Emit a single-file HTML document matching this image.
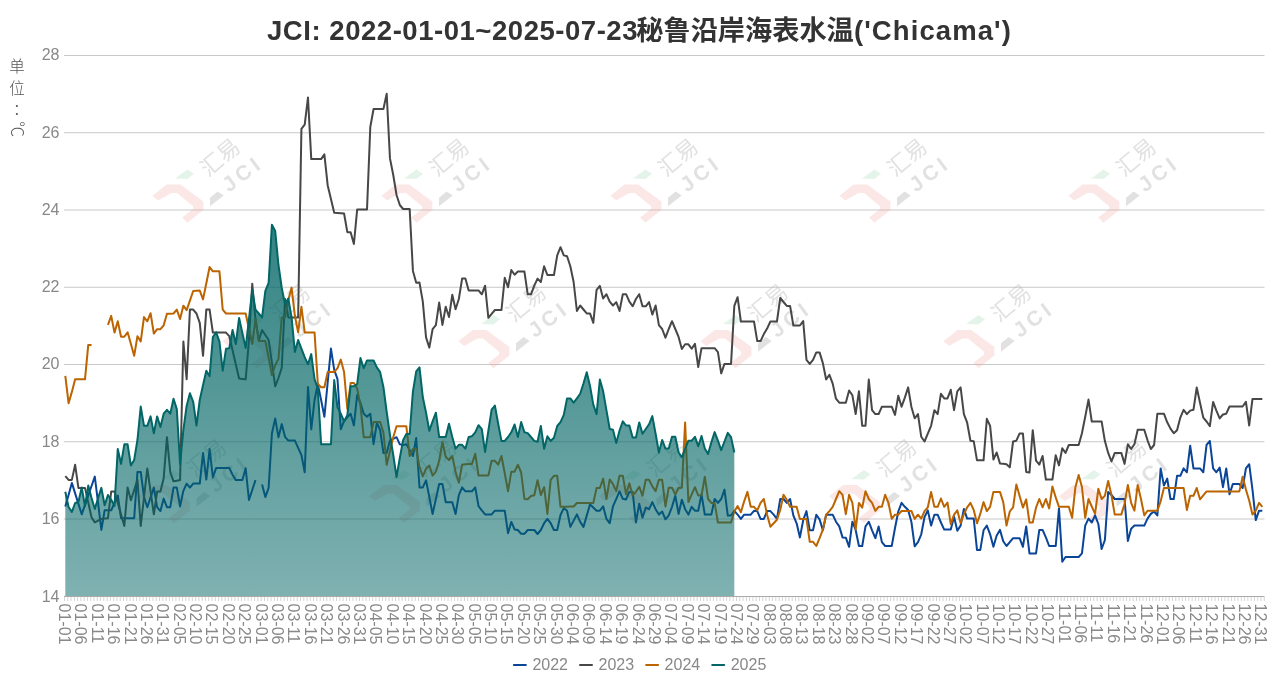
<!DOCTYPE html><html><head><meta charset="utf-8"><title>JCI Chicama</title><style>html,body{margin:0;padding:0;background:#fff;overflow:hidden}</style></head><body><svg width="1278" height="689" viewBox="0 0 1278 689" style="display:block;will-change:transform">
<defs><linearGradient id="g25" x1="0" y1="226" x2="0" y2="596.5" gradientUnits="userSpaceOnUse"><stop offset="0" stop-color="#006464" stop-opacity="0.8"/><stop offset="1" stop-color="#006464" stop-opacity="0.5"/></linearGradient></defs>
<rect width="1278" height="689" fill="#fff"/>
<line x1="64" y1="55.50" x2="1264.5" y2="55.50" stroke="#c8c8c8" stroke-width="1"/>
<line x1="64" y1="132.75" x2="1264.5" y2="132.75" stroke="#c8c8c8" stroke-width="1"/>
<line x1="64" y1="210.00" x2="1264.5" y2="210.00" stroke="#c8c8c8" stroke-width="1"/>
<line x1="64" y1="287.25" x2="1264.5" y2="287.25" stroke="#c8c8c8" stroke-width="1"/>
<line x1="64" y1="364.50" x2="1264.5" y2="364.50" stroke="#c8c8c8" stroke-width="1"/>
<line x1="64" y1="441.75" x2="1264.5" y2="441.75" stroke="#c8c8c8" stroke-width="1"/>
<line x1="64" y1="519.00" x2="1264.5" y2="519.00" stroke="#c8c8c8" stroke-width="1"/>
<text x="59.5" y="60.40" text-anchor="end" font-size="16" fill="#888" font-family='"Liberation Sans", "Noto Sans CJK SC", sans-serif'>28</text>
<text x="59.5" y="137.65" text-anchor="end" font-size="16" fill="#888" font-family='"Liberation Sans", "Noto Sans CJK SC", sans-serif'>26</text>
<text x="59.5" y="214.90" text-anchor="end" font-size="16" fill="#888" font-family='"Liberation Sans", "Noto Sans CJK SC", sans-serif'>24</text>
<text x="59.5" y="292.15" text-anchor="end" font-size="16" fill="#888" font-family='"Liberation Sans", "Noto Sans CJK SC", sans-serif'>22</text>
<text x="59.5" y="369.40" text-anchor="end" font-size="16" fill="#888" font-family='"Liberation Sans", "Noto Sans CJK SC", sans-serif'>20</text>
<text x="59.5" y="446.65" text-anchor="end" font-size="16" fill="#888" font-family='"Liberation Sans", "Noto Sans CJK SC", sans-serif'>18</text>
<text x="59.5" y="523.90" text-anchor="end" font-size="16" fill="#888" font-family='"Liberation Sans", "Noto Sans CJK SC", sans-serif'>16</text>
<text x="59.5" y="602.40" text-anchor="end" font-size="16" fill="#888" font-family='"Liberation Sans", "Noto Sans CJK SC", sans-serif'>14</text>
<path d="M64.50 597V601 M67.78 597V601 M71.06 597V601 M74.33 597V601 M77.61 597V601 M80.89 597V601 M84.17 597V601 M87.45 597V601 M90.72 597V601 M94.00 597V601 M97.28 597V601 M100.56 597V601 M103.84 597V601 M107.11 597V601 M110.39 597V601 M113.67 597V601 M116.95 597V601 M120.23 597V601 M123.50 597V601 M126.78 597V601 M130.06 597V601 M133.34 597V601 M136.62 597V601 M139.89 597V601 M143.17 597V601 M146.45 597V601 M149.73 597V601 M153.01 597V601 M156.28 597V601 M159.56 597V601 M162.84 597V601 M166.12 597V601 M169.40 597V601 M172.67 597V601 M175.95 597V601 M179.23 597V601 M182.51 597V601 M185.79 597V601 M189.06 597V601 M192.34 597V601 M195.62 597V601 M198.90 597V601 M202.18 597V601 M205.45 597V601 M208.73 597V601 M212.01 597V601 M215.29 597V601 M218.57 597V601 M221.84 597V601 M225.12 597V601 M228.40 597V601 M231.68 597V601 M234.96 597V601 M238.23 597V601 M241.51 597V601 M244.79 597V601 M248.07 597V601 M251.35 597V601 M254.62 597V601 M257.90 597V601 M261.18 597V601 M264.46 597V601 M267.74 597V601 M271.01 597V601 M274.29 597V601 M277.57 597V601 M280.85 597V601 M284.13 597V601 M287.40 597V601 M290.68 597V601 M293.96 597V601 M297.24 597V601 M300.52 597V601 M303.79 597V601 M307.07 597V601 M310.35 597V601 M313.63 597V601 M316.91 597V601 M320.18 597V601 M323.46 597V601 M326.74 597V601 M330.02 597V601 M333.30 597V601 M336.57 597V601 M339.85 597V601 M343.13 597V601 M346.41 597V601 M349.69 597V601 M352.96 597V601 M356.24 597V601 M359.52 597V601 M362.80 597V601 M366.08 597V601 M369.35 597V601 M372.63 597V601 M375.91 597V601 M379.19 597V601 M382.47 597V601 M385.74 597V601 M389.02 597V601 M392.30 597V601 M395.58 597V601 M398.86 597V601 M402.13 597V601 M405.41 597V601 M408.69 597V601 M411.97 597V601 M415.25 597V601 M418.52 597V601 M421.80 597V601 M425.08 597V601 M428.36 597V601 M431.64 597V601 M434.91 597V601 M438.19 597V601 M441.47 597V601 M444.75 597V601 M448.03 597V601 M451.30 597V601 M454.58 597V601 M457.86 597V601 M461.14 597V601 M464.42 597V601 M467.69 597V601 M470.97 597V601 M474.25 597V601 M477.53 597V601 M480.81 597V601 M484.08 597V601 M487.36 597V601 M490.64 597V601 M493.92 597V601 M497.20 597V601 M500.47 597V601 M503.75 597V601 M507.03 597V601 M510.31 597V601 M513.59 597V601 M516.86 597V601 M520.14 597V601 M523.42 597V601 M526.70 597V601 M529.98 597V601 M533.25 597V601 M536.53 597V601 M539.81 597V601 M543.09 597V601 M546.37 597V601 M549.64 597V601 M552.92 597V601 M556.20 597V601 M559.48 597V601 M562.76 597V601 M566.03 597V601 M569.31 597V601 M572.59 597V601 M575.87 597V601 M579.15 597V601 M582.42 597V601 M585.70 597V601 M588.98 597V601 M592.26 597V601 M595.54 597V601 M598.81 597V601 M602.09 597V601 M605.37 597V601 M608.65 597V601 M611.93 597V601 M615.20 597V601 M618.48 597V601 M621.76 597V601 M625.04 597V601 M628.32 597V601 M631.59 597V601 M634.87 597V601 M638.15 597V601 M641.43 597V601 M644.71 597V601 M647.98 597V601 M651.26 597V601 M654.54 597V601 M657.82 597V601 M661.10 597V601 M664.37 597V601 M667.65 597V601 M670.93 597V601 M674.21 597V601 M677.49 597V601 M680.76 597V601 M684.04 597V601 M687.32 597V601 M690.60 597V601 M693.88 597V601 M697.15 597V601 M700.43 597V601 M703.71 597V601 M706.99 597V601 M710.27 597V601 M713.54 597V601 M716.82 597V601 M720.10 597V601 M723.38 597V601 M726.66 597V601 M729.93 597V601 M733.21 597V601 M736.49 597V601 M739.77 597V601 M743.05 597V601 M746.32 597V601 M749.60 597V601 M752.88 597V601 M756.16 597V601 M759.44 597V601 M762.71 597V601 M765.99 597V601 M769.27 597V601 M772.55 597V601 M775.83 597V601 M779.10 597V601 M782.38 597V601 M785.66 597V601 M788.94 597V601 M792.22 597V601 M795.49 597V601 M798.77 597V601 M802.05 597V601 M805.33 597V601 M808.61 597V601 M811.88 597V601 M815.16 597V601 M818.44 597V601 M821.72 597V601 M825.00 597V601 M828.27 597V601 M831.55 597V601 M834.83 597V601 M838.11 597V601 M841.39 597V601 M844.66 597V601 M847.94 597V601 M851.22 597V601 M854.50 597V601 M857.78 597V601 M861.05 597V601 M864.33 597V601 M867.61 597V601 M870.89 597V601 M874.17 597V601 M877.44 597V601 M880.72 597V601 M884.00 597V601 M887.28 597V601 M890.56 597V601 M893.83 597V601 M897.11 597V601 M900.39 597V601 M903.67 597V601 M906.95 597V601 M910.22 597V601 M913.50 597V601 M916.78 597V601 M920.06 597V601 M923.34 597V601 M926.61 597V601 M929.89 597V601 M933.17 597V601 M936.45 597V601 M939.73 597V601 M943.00 597V601 M946.28 597V601 M949.56 597V601 M952.84 597V601 M956.12 597V601 M959.39 597V601 M962.67 597V601 M965.95 597V601 M969.23 597V601 M972.51 597V601 M975.78 597V601 M979.06 597V601 M982.34 597V601 M985.62 597V601 M988.90 597V601 M992.17 597V601 M995.45 597V601 M998.73 597V601 M1002.01 597V601 M1005.29 597V601 M1008.56 597V601 M1011.84 597V601 M1015.12 597V601 M1018.40 597V601 M1021.68 597V601 M1024.95 597V601 M1028.23 597V601 M1031.51 597V601 M1034.79 597V601 M1038.07 597V601 M1041.34 597V601 M1044.62 597V601 M1047.90 597V601 M1051.18 597V601 M1054.46 597V601 M1057.73 597V601 M1061.01 597V601 M1064.29 597V601 M1067.57 597V601 M1070.85 597V601 M1074.12 597V601 M1077.40 597V601 M1080.68 597V601 M1083.96 597V601 M1087.24 597V601 M1090.51 597V601 M1093.79 597V601 M1097.07 597V601 M1100.35 597V601 M1103.63 597V601 M1106.90 597V601 M1110.18 597V601 M1113.46 597V601 M1116.74 597V601 M1120.02 597V601 M1123.29 597V601 M1126.57 597V601 M1129.85 597V601 M1133.13 597V601 M1136.41 597V601 M1139.68 597V601 M1142.96 597V601 M1146.24 597V601 M1149.52 597V601 M1152.80 597V601 M1156.07 597V601 M1159.35 597V601 M1162.63 597V601 M1165.91 597V601 M1169.19 597V601 M1172.46 597V601 M1175.74 597V601 M1179.02 597V601 M1182.30 597V601 M1185.58 597V601 M1188.85 597V601 M1192.13 597V601 M1195.41 597V601 M1198.69 597V601 M1201.97 597V601 M1205.24 597V601 M1208.52 597V601 M1211.80 597V601 M1215.08 597V601 M1218.36 597V601 M1221.63 597V601 M1224.91 597V601 M1228.19 597V601 M1231.47 597V601 M1234.75 597V601 M1238.02 597V601 M1241.30 597V601 M1244.58 597V601 M1247.86 597V601 M1251.14 597V601 M1254.41 597V601 M1257.69 597V601 M1260.97 597V601 M1264.25 597V601" stroke="#d5d5d5" stroke-width="1" fill="none"/>
<text transform="translate(59.00,603.5) rotate(90)" font-size="16" fill="#888" font-family='"Liberation Sans", "Noto Sans CJK SC", sans-serif'>01-01</text>
<text transform="translate(75.39,603.5) rotate(90)" font-size="16" fill="#888" font-family='"Liberation Sans", "Noto Sans CJK SC", sans-serif'>01-06</text>
<text transform="translate(91.77,603.5) rotate(90)" font-size="16" fill="#888" font-family='"Liberation Sans", "Noto Sans CJK SC", sans-serif'>01-11</text>
<text transform="translate(108.16,603.5) rotate(90)" font-size="16" fill="#888" font-family='"Liberation Sans", "Noto Sans CJK SC", sans-serif'>01-16</text>
<text transform="translate(124.55,603.5) rotate(90)" font-size="16" fill="#888" font-family='"Liberation Sans", "Noto Sans CJK SC", sans-serif'>01-21</text>
<text transform="translate(140.94,603.5) rotate(90)" font-size="16" fill="#888" font-family='"Liberation Sans", "Noto Sans CJK SC", sans-serif'>01-26</text>
<text transform="translate(157.32,603.5) rotate(90)" font-size="16" fill="#888" font-family='"Liberation Sans", "Noto Sans CJK SC", sans-serif'>01-31</text>
<text transform="translate(173.71,603.5) rotate(90)" font-size="16" fill="#888" font-family='"Liberation Sans", "Noto Sans CJK SC", sans-serif'>02-05</text>
<text transform="translate(190.10,603.5) rotate(90)" font-size="16" fill="#888" font-family='"Liberation Sans", "Noto Sans CJK SC", sans-serif'>02-10</text>
<text transform="translate(206.49,603.5) rotate(90)" font-size="16" fill="#888" font-family='"Liberation Sans", "Noto Sans CJK SC", sans-serif'>02-15</text>
<text transform="translate(222.88,603.5) rotate(90)" font-size="16" fill="#888" font-family='"Liberation Sans", "Noto Sans CJK SC", sans-serif'>02-20</text>
<text transform="translate(239.26,603.5) rotate(90)" font-size="16" fill="#888" font-family='"Liberation Sans", "Noto Sans CJK SC", sans-serif'>02-25</text>
<text transform="translate(255.65,603.5) rotate(90)" font-size="16" fill="#888" font-family='"Liberation Sans", "Noto Sans CJK SC", sans-serif'>03-01</text>
<text transform="translate(272.04,603.5) rotate(90)" font-size="16" fill="#888" font-family='"Liberation Sans", "Noto Sans CJK SC", sans-serif'>03-06</text>
<text transform="translate(288.42,603.5) rotate(90)" font-size="16" fill="#888" font-family='"Liberation Sans", "Noto Sans CJK SC", sans-serif'>03-11</text>
<text transform="translate(304.81,603.5) rotate(90)" font-size="16" fill="#888" font-family='"Liberation Sans", "Noto Sans CJK SC", sans-serif'>03-16</text>
<text transform="translate(321.20,603.5) rotate(90)" font-size="16" fill="#888" font-family='"Liberation Sans", "Noto Sans CJK SC", sans-serif'>03-21</text>
<text transform="translate(337.59,603.5) rotate(90)" font-size="16" fill="#888" font-family='"Liberation Sans", "Noto Sans CJK SC", sans-serif'>03-26</text>
<text transform="translate(353.97,603.5) rotate(90)" font-size="16" fill="#888" font-family='"Liberation Sans", "Noto Sans CJK SC", sans-serif'>03-31</text>
<text transform="translate(370.36,603.5) rotate(90)" font-size="16" fill="#888" font-family='"Liberation Sans", "Noto Sans CJK SC", sans-serif'>04-05</text>
<text transform="translate(386.75,603.5) rotate(90)" font-size="16" fill="#888" font-family='"Liberation Sans", "Noto Sans CJK SC", sans-serif'>04-10</text>
<text transform="translate(403.14,603.5) rotate(90)" font-size="16" fill="#888" font-family='"Liberation Sans", "Noto Sans CJK SC", sans-serif'>04-15</text>
<text transform="translate(419.52,603.5) rotate(90)" font-size="16" fill="#888" font-family='"Liberation Sans", "Noto Sans CJK SC", sans-serif'>04-20</text>
<text transform="translate(435.91,603.5) rotate(90)" font-size="16" fill="#888" font-family='"Liberation Sans", "Noto Sans CJK SC", sans-serif'>04-25</text>
<text transform="translate(452.30,603.5) rotate(90)" font-size="16" fill="#888" font-family='"Liberation Sans", "Noto Sans CJK SC", sans-serif'>04-30</text>
<text transform="translate(468.69,603.5) rotate(90)" font-size="16" fill="#888" font-family='"Liberation Sans", "Noto Sans CJK SC", sans-serif'>05-05</text>
<text transform="translate(485.07,603.5) rotate(90)" font-size="16" fill="#888" font-family='"Liberation Sans", "Noto Sans CJK SC", sans-serif'>05-10</text>
<text transform="translate(501.46,603.5) rotate(90)" font-size="16" fill="#888" font-family='"Liberation Sans", "Noto Sans CJK SC", sans-serif'>05-15</text>
<text transform="translate(517.85,603.5) rotate(90)" font-size="16" fill="#888" font-family='"Liberation Sans", "Noto Sans CJK SC", sans-serif'>05-20</text>
<text transform="translate(534.24,603.5) rotate(90)" font-size="16" fill="#888" font-family='"Liberation Sans", "Noto Sans CJK SC", sans-serif'>05-25</text>
<text transform="translate(550.62,603.5) rotate(90)" font-size="16" fill="#888" font-family='"Liberation Sans", "Noto Sans CJK SC", sans-serif'>05-30</text>
<text transform="translate(567.01,603.5) rotate(90)" font-size="16" fill="#888" font-family='"Liberation Sans", "Noto Sans CJK SC", sans-serif'>06-04</text>
<text transform="translate(583.40,603.5) rotate(90)" font-size="16" fill="#888" font-family='"Liberation Sans", "Noto Sans CJK SC", sans-serif'>06-09</text>
<text transform="translate(599.79,603.5) rotate(90)" font-size="16" fill="#888" font-family='"Liberation Sans", "Noto Sans CJK SC", sans-serif'>06-14</text>
<text transform="translate(616.17,603.5) rotate(90)" font-size="16" fill="#888" font-family='"Liberation Sans", "Noto Sans CJK SC", sans-serif'>06-19</text>
<text transform="translate(632.56,603.5) rotate(90)" font-size="16" fill="#888" font-family='"Liberation Sans", "Noto Sans CJK SC", sans-serif'>06-24</text>
<text transform="translate(648.95,603.5) rotate(90)" font-size="16" fill="#888" font-family='"Liberation Sans", "Noto Sans CJK SC", sans-serif'>06-29</text>
<text transform="translate(665.34,603.5) rotate(90)" font-size="16" fill="#888" font-family='"Liberation Sans", "Noto Sans CJK SC", sans-serif'>07-04</text>
<text transform="translate(681.73,603.5) rotate(90)" font-size="16" fill="#888" font-family='"Liberation Sans", "Noto Sans CJK SC", sans-serif'>07-09</text>
<text transform="translate(698.11,603.5) rotate(90)" font-size="16" fill="#888" font-family='"Liberation Sans", "Noto Sans CJK SC", sans-serif'>07-14</text>
<text transform="translate(714.50,603.5) rotate(90)" font-size="16" fill="#888" font-family='"Liberation Sans", "Noto Sans CJK SC", sans-serif'>07-19</text>
<text transform="translate(730.89,603.5) rotate(90)" font-size="16" fill="#888" font-family='"Liberation Sans", "Noto Sans CJK SC", sans-serif'>07-24</text>
<text transform="translate(747.27,603.5) rotate(90)" font-size="16" fill="#888" font-family='"Liberation Sans", "Noto Sans CJK SC", sans-serif'>07-29</text>
<text transform="translate(763.66,603.5) rotate(90)" font-size="16" fill="#888" font-family='"Liberation Sans", "Noto Sans CJK SC", sans-serif'>08-03</text>
<text transform="translate(780.05,603.5) rotate(90)" font-size="16" fill="#888" font-family='"Liberation Sans", "Noto Sans CJK SC", sans-serif'>08-08</text>
<text transform="translate(796.44,603.5) rotate(90)" font-size="16" fill="#888" font-family='"Liberation Sans", "Noto Sans CJK SC", sans-serif'>08-13</text>
<text transform="translate(812.82,603.5) rotate(90)" font-size="16" fill="#888" font-family='"Liberation Sans", "Noto Sans CJK SC", sans-serif'>08-18</text>
<text transform="translate(829.21,603.5) rotate(90)" font-size="16" fill="#888" font-family='"Liberation Sans", "Noto Sans CJK SC", sans-serif'>08-23</text>
<text transform="translate(845.60,603.5) rotate(90)" font-size="16" fill="#888" font-family='"Liberation Sans", "Noto Sans CJK SC", sans-serif'>08-28</text>
<text transform="translate(861.99,603.5) rotate(90)" font-size="16" fill="#888" font-family='"Liberation Sans", "Noto Sans CJK SC", sans-serif'>09-02</text>
<text transform="translate(878.38,603.5) rotate(90)" font-size="16" fill="#888" font-family='"Liberation Sans", "Noto Sans CJK SC", sans-serif'>09-07</text>
<text transform="translate(894.76,603.5) rotate(90)" font-size="16" fill="#888" font-family='"Liberation Sans", "Noto Sans CJK SC", sans-serif'>09-12</text>
<text transform="translate(911.15,603.5) rotate(90)" font-size="16" fill="#888" font-family='"Liberation Sans", "Noto Sans CJK SC", sans-serif'>09-17</text>
<text transform="translate(927.54,603.5) rotate(90)" font-size="16" fill="#888" font-family='"Liberation Sans", "Noto Sans CJK SC", sans-serif'>09-22</text>
<text transform="translate(943.92,603.5) rotate(90)" font-size="16" fill="#888" font-family='"Liberation Sans", "Noto Sans CJK SC", sans-serif'>09-27</text>
<text transform="translate(960.31,603.5) rotate(90)" font-size="16" fill="#888" font-family='"Liberation Sans", "Noto Sans CJK SC", sans-serif'>10-02</text>
<text transform="translate(976.70,603.5) rotate(90)" font-size="16" fill="#888" font-family='"Liberation Sans", "Noto Sans CJK SC", sans-serif'>10-07</text>
<text transform="translate(993.09,603.5) rotate(90)" font-size="16" fill="#888" font-family='"Liberation Sans", "Noto Sans CJK SC", sans-serif'>10-12</text>
<text transform="translate(1009.47,603.5) rotate(90)" font-size="16" fill="#888" font-family='"Liberation Sans", "Noto Sans CJK SC", sans-serif'>10-17</text>
<text transform="translate(1025.86,603.5) rotate(90)" font-size="16" fill="#888" font-family='"Liberation Sans", "Noto Sans CJK SC", sans-serif'>10-22</text>
<text transform="translate(1042.25,603.5) rotate(90)" font-size="16" fill="#888" font-family='"Liberation Sans", "Noto Sans CJK SC", sans-serif'>10-27</text>
<text transform="translate(1058.64,603.5) rotate(90)" font-size="16" fill="#888" font-family='"Liberation Sans", "Noto Sans CJK SC", sans-serif'>11-01</text>
<text transform="translate(1075.03,603.5) rotate(90)" font-size="16" fill="#888" font-family='"Liberation Sans", "Noto Sans CJK SC", sans-serif'>11-06</text>
<text transform="translate(1091.41,603.5) rotate(90)" font-size="16" fill="#888" font-family='"Liberation Sans", "Noto Sans CJK SC", sans-serif'>11-11</text>
<text transform="translate(1107.80,603.5) rotate(90)" font-size="16" fill="#888" font-family='"Liberation Sans", "Noto Sans CJK SC", sans-serif'>11-16</text>
<text transform="translate(1124.19,603.5) rotate(90)" font-size="16" fill="#888" font-family='"Liberation Sans", "Noto Sans CJK SC", sans-serif'>11-21</text>
<text transform="translate(1140.58,603.5) rotate(90)" font-size="16" fill="#888" font-family='"Liberation Sans", "Noto Sans CJK SC", sans-serif'>11-26</text>
<text transform="translate(1156.96,603.5) rotate(90)" font-size="16" fill="#888" font-family='"Liberation Sans", "Noto Sans CJK SC", sans-serif'>12-01</text>
<text transform="translate(1173.35,603.5) rotate(90)" font-size="16" fill="#888" font-family='"Liberation Sans", "Noto Sans CJK SC", sans-serif'>12-06</text>
<text transform="translate(1189.74,603.5) rotate(90)" font-size="16" fill="#888" font-family='"Liberation Sans", "Noto Sans CJK SC", sans-serif'>12-11</text>
<text transform="translate(1206.12,603.5) rotate(90)" font-size="16" fill="#888" font-family='"Liberation Sans", "Noto Sans CJK SC", sans-serif'>12-16</text>
<text transform="translate(1222.51,603.5) rotate(90)" font-size="16" fill="#888" font-family='"Liberation Sans", "Noto Sans CJK SC", sans-serif'>12-21</text>
<text transform="translate(1238.90,603.5) rotate(90)" font-size="16" fill="#888" font-family='"Liberation Sans", "Noto Sans CJK SC", sans-serif'>12-26</text>
<text transform="translate(1255.29,603.5) rotate(90)" font-size="16" fill="#888" font-family='"Liberation Sans", "Noto Sans CJK SC", sans-serif'>12-31</text>
<g>
<polygon points="1068.5,195.8 1082.6,184.5 1096.3,184.5 1119.4,201.5 1119.4,210.0 1103.4,222.7 1098.2,217.5 1109.1,209.1 1109.1,206.2 1093.0,193.0 1087.4,193.0 1074.2,200.6" fill="rgb(245,160,160)" fill-opacity="0.25"/>
<polygon points="1091.1,178.4 1103.4,169.4 1110.0,173.7 1103.4,178.9" fill="rgb(150,210,170)" fill-opacity="0.25"/>
<polygon points="1126.0,197.7 1133.6,191.6 1139.7,195.4 1126.0,206.2" fill="rgb(180,180,180)" fill-opacity="0.4"/>
<text x="1136.2" y="157.6" transform="rotate(-40 1136.2 157.6)" text-anchor="middle" dominant-baseline="central" font-size="22" fill="rgb(180,180,180)" fill-opacity="0.4" font-family='"Liberation Sans", "Noto Sans CJK SC", sans-serif'>汇易</text>
<text x="1158.4" y="173.3" transform="rotate(-37 1158.4 173.3)" text-anchor="middle" dominant-baseline="central" font-size="21" font-weight="bold" letter-spacing="4" fill="rgb(180,180,180)" fill-opacity="0.4" font-family='"Liberation Sans", "Noto Sans CJK SC", sans-serif'>JCI</text>
<polygon points="839.5,195.8 853.6,184.5 867.3,184.5 890.4,201.5 890.4,210.0 874.4,222.7 869.2,217.5 880.1,209.1 880.1,206.2 864.0,193.0 858.4,193.0 845.2,200.6" fill="rgb(245,160,160)" fill-opacity="0.25"/>
<polygon points="862.1,178.4 874.4,169.4 881.0,173.7 874.4,178.9" fill="rgb(150,210,170)" fill-opacity="0.25"/>
<polygon points="897.0,197.7 904.6,191.6 910.7,195.4 897.0,206.2" fill="rgb(180,180,180)" fill-opacity="0.4"/>
<text x="907.2" y="157.6" transform="rotate(-40 907.2 157.6)" text-anchor="middle" dominant-baseline="central" font-size="22" fill="rgb(180,180,180)" fill-opacity="0.4" font-family='"Liberation Sans", "Noto Sans CJK SC", sans-serif'>汇易</text>
<text x="929.4" y="173.3" transform="rotate(-37 929.4 173.3)" text-anchor="middle" dominant-baseline="central" font-size="21" font-weight="bold" letter-spacing="4" fill="rgb(180,180,180)" fill-opacity="0.4" font-family='"Liberation Sans", "Noto Sans CJK SC", sans-serif'>JCI</text>
<polygon points="610.5,195.8 624.6,184.5 638.3,184.5 661.4,201.5 661.4,210.0 645.4,222.7 640.2,217.5 651.1,209.1 651.1,206.2 635.0,193.0 629.4,193.0 616.2,200.6" fill="rgb(245,160,160)" fill-opacity="0.25"/>
<polygon points="633.1,178.4 645.4,169.4 652.0,173.7 645.4,178.9" fill="rgb(150,210,170)" fill-opacity="0.25"/>
<polygon points="668.0,197.7 675.6,191.6 681.7,195.4 668.0,206.2" fill="rgb(180,180,180)" fill-opacity="0.4"/>
<text x="678.2" y="157.6" transform="rotate(-40 678.2 157.6)" text-anchor="middle" dominant-baseline="central" font-size="22" fill="rgb(180,180,180)" fill-opacity="0.4" font-family='"Liberation Sans", "Noto Sans CJK SC", sans-serif'>汇易</text>
<text x="700.4" y="173.3" transform="rotate(-37 700.4 173.3)" text-anchor="middle" dominant-baseline="central" font-size="21" font-weight="bold" letter-spacing="4" fill="rgb(180,180,180)" fill-opacity="0.4" font-family='"Liberation Sans", "Noto Sans CJK SC", sans-serif'>JCI</text>
<polygon points="381.5,195.8 395.6,184.5 409.3,184.5 432.4,201.5 432.4,210.0 416.4,222.7 411.2,217.5 422.1,209.1 422.1,206.2 406.0,193.0 400.4,193.0 387.2,200.6" fill="rgb(245,160,160)" fill-opacity="0.25"/>
<polygon points="404.1,178.4 416.4,169.4 423.0,173.7 416.4,178.9" fill="rgb(150,210,170)" fill-opacity="0.25"/>
<polygon points="439.0,197.7 446.6,191.6 452.7,195.4 439.0,206.2" fill="rgb(180,180,180)" fill-opacity="0.4"/>
<text x="449.2" y="157.6" transform="rotate(-40 449.2 157.6)" text-anchor="middle" dominant-baseline="central" font-size="22" fill="rgb(180,180,180)" fill-opacity="0.4" font-family='"Liberation Sans", "Noto Sans CJK SC", sans-serif'>汇易</text>
<text x="471.4" y="173.3" transform="rotate(-37 471.4 173.3)" text-anchor="middle" dominant-baseline="central" font-size="21" font-weight="bold" letter-spacing="4" fill="rgb(180,180,180)" fill-opacity="0.4" font-family='"Liberation Sans", "Noto Sans CJK SC", sans-serif'>JCI</text>
<polygon points="152.5,195.8 166.6,184.5 180.3,184.5 203.4,201.5 203.4,210.0 187.4,222.7 182.2,217.5 193.1,209.1 193.1,206.2 177.0,193.0 171.4,193.0 158.2,200.6" fill="rgb(245,160,160)" fill-opacity="0.25"/>
<polygon points="175.1,178.4 187.4,169.4 194.0,173.7 187.4,178.9" fill="rgb(150,210,170)" fill-opacity="0.25"/>
<polygon points="210.0,197.7 217.6,191.6 223.7,195.4 210.0,206.2" fill="rgb(180,180,180)" fill-opacity="0.4"/>
<text x="220.2" y="157.6" transform="rotate(-40 220.2 157.6)" text-anchor="middle" dominant-baseline="central" font-size="22" fill="rgb(180,180,180)" fill-opacity="0.4" font-family='"Liberation Sans", "Noto Sans CJK SC", sans-serif'>汇易</text>
<text x="242.4" y="173.3" transform="rotate(-37 242.4 173.3)" text-anchor="middle" dominant-baseline="central" font-size="21" font-weight="bold" letter-spacing="4" fill="rgb(180,180,180)" fill-opacity="0.4" font-family='"Liberation Sans", "Noto Sans CJK SC", sans-serif'>JCI</text>
<polygon points="943.5,341.3 957.6,330.0 971.3,330.0 994.4,347.0 994.4,355.5 978.4,368.2 973.2,363.0 984.1,354.6 984.1,351.7 968.0,338.5 962.4,338.5 949.2,346.1" fill="rgb(245,160,160)" fill-opacity="0.25"/>
<polygon points="966.1,323.9 978.4,314.9 985.0,319.2 978.4,324.4" fill="rgb(150,210,170)" fill-opacity="0.25"/>
<polygon points="1001.0,343.2 1008.6,337.1 1014.7,340.9 1001.0,351.7" fill="rgb(180,180,180)" fill-opacity="0.4"/>
<text x="1011.2" y="303.1" transform="rotate(-40 1011.2 303.1)" text-anchor="middle" dominant-baseline="central" font-size="22" fill="rgb(180,180,180)" fill-opacity="0.4" font-family='"Liberation Sans", "Noto Sans CJK SC", sans-serif'>汇易</text>
<text x="1033.4" y="318.8" transform="rotate(-37 1033.4 318.8)" text-anchor="middle" dominant-baseline="central" font-size="21" font-weight="bold" letter-spacing="4" fill="rgb(180,180,180)" fill-opacity="0.4" font-family='"Liberation Sans", "Noto Sans CJK SC", sans-serif'>JCI</text>
<polygon points="700.5,341.3 714.6,330.0 728.3,330.0 751.4,347.0 751.4,355.5 735.4,368.2 730.2,363.0 741.1,354.6 741.1,351.7 725.0,338.5 719.4,338.5 706.2,346.1" fill="rgb(245,160,160)" fill-opacity="0.25"/>
<polygon points="723.1,323.9 735.4,314.9 742.0,319.2 735.4,324.4" fill="rgb(150,210,170)" fill-opacity="0.25"/>
<polygon points="758.0,343.2 765.6,337.1 771.7,340.9 758.0,351.7" fill="rgb(180,180,180)" fill-opacity="0.4"/>
<text x="768.2" y="303.1" transform="rotate(-40 768.2 303.1)" text-anchor="middle" dominant-baseline="central" font-size="22" fill="rgb(180,180,180)" fill-opacity="0.4" font-family='"Liberation Sans", "Noto Sans CJK SC", sans-serif'>汇易</text>
<text x="790.4" y="318.8" transform="rotate(-37 790.4 318.8)" text-anchor="middle" dominant-baseline="central" font-size="21" font-weight="bold" letter-spacing="4" fill="rgb(180,180,180)" fill-opacity="0.4" font-family='"Liberation Sans", "Noto Sans CJK SC", sans-serif'>JCI</text>
<polygon points="458.5,341.3 472.6,330.0 486.3,330.0 509.4,347.0 509.4,355.5 493.4,368.2 488.2,363.0 499.1,354.6 499.1,351.7 483.0,338.5 477.4,338.5 464.2,346.1" fill="rgb(245,160,160)" fill-opacity="0.25"/>
<polygon points="481.1,323.9 493.4,314.9 500.0,319.2 493.4,324.4" fill="rgb(150,210,170)" fill-opacity="0.25"/>
<polygon points="516.0,343.2 523.6,337.1 529.7,340.9 516.0,351.7" fill="rgb(180,180,180)" fill-opacity="0.4"/>
<text x="526.2" y="303.1" transform="rotate(-40 526.2 303.1)" text-anchor="middle" dominant-baseline="central" font-size="22" fill="rgb(180,180,180)" fill-opacity="0.4" font-family='"Liberation Sans", "Noto Sans CJK SC", sans-serif'>汇易</text>
<text x="548.4" y="318.8" transform="rotate(-37 548.4 318.8)" text-anchor="middle" dominant-baseline="central" font-size="21" font-weight="bold" letter-spacing="4" fill="rgb(180,180,180)" fill-opacity="0.4" font-family='"Liberation Sans", "Noto Sans CJK SC", sans-serif'>JCI</text>
<polygon points="222.5,341.3 236.6,330.0 250.3,330.0 273.4,347.0 273.4,355.5 257.4,368.2 252.2,363.0 263.1,354.6 263.1,351.7 247.0,338.5 241.4,338.5 228.2,346.1" fill="rgb(245,160,160)" fill-opacity="0.25"/>
<polygon points="245.1,323.9 257.4,314.9 264.0,319.2 257.4,324.4" fill="rgb(150,210,170)" fill-opacity="0.25"/>
<polygon points="280.0,343.2 287.6,337.1 293.7,340.9 280.0,351.7" fill="rgb(180,180,180)" fill-opacity="0.4"/>
<text x="290.2" y="303.1" transform="rotate(-40 290.2 303.1)" text-anchor="middle" dominant-baseline="central" font-size="22" fill="rgb(180,180,180)" fill-opacity="0.4" font-family='"Liberation Sans", "Noto Sans CJK SC", sans-serif'>汇易</text>
<text x="312.4" y="318.8" transform="rotate(-37 312.4 318.8)" text-anchor="middle" dominant-baseline="central" font-size="21" font-weight="bold" letter-spacing="4" fill="rgb(180,180,180)" fill-opacity="0.4" font-family='"Liberation Sans", "Noto Sans CJK SC", sans-serif'>JCI</text>
<polygon points="1059.0,496.3 1073.1,485.0 1086.8,485.0 1109.9,502.0 1109.9,510.5 1093.9,523.2 1088.7,518.0 1099.6,509.6 1099.6,506.7 1083.5,493.5 1077.9,493.5 1064.7,501.1" fill="rgb(245,160,160)" fill-opacity="0.25"/>
<polygon points="1081.6,478.9 1093.9,469.9 1100.5,474.2 1093.9,479.4" fill="rgb(150,210,170)" fill-opacity="0.25"/>
<polygon points="1116.5,498.2 1124.1,492.1 1130.2,495.9 1116.5,506.7" fill="rgb(180,180,180)" fill-opacity="0.4"/>
<text x="1126.7" y="458.1" transform="rotate(-40 1126.7 458.1)" text-anchor="middle" dominant-baseline="central" font-size="22" fill="rgb(180,180,180)" fill-opacity="0.4" font-family='"Liberation Sans", "Noto Sans CJK SC", sans-serif'>汇易</text>
<text x="1148.9" y="473.8" transform="rotate(-37 1148.9 473.8)" text-anchor="middle" dominant-baseline="central" font-size="21" font-weight="bold" letter-spacing="4" fill="rgb(180,180,180)" fill-opacity="0.4" font-family='"Liberation Sans", "Noto Sans CJK SC", sans-serif'>JCI</text>
<polygon points="829.0,496.3 843.1,485.0 856.8,485.0 879.9,502.0 879.9,510.5 863.9,523.2 858.7,518.0 869.6,509.6 869.6,506.7 853.5,493.5 847.9,493.5 834.7,501.1" fill="rgb(245,160,160)" fill-opacity="0.25"/>
<polygon points="851.6,478.9 863.9,469.9 870.5,474.2 863.9,479.4" fill="rgb(150,210,170)" fill-opacity="0.25"/>
<polygon points="886.5,498.2 894.1,492.1 900.2,495.9 886.5,506.7" fill="rgb(180,180,180)" fill-opacity="0.4"/>
<text x="896.7" y="458.1" transform="rotate(-40 896.7 458.1)" text-anchor="middle" dominant-baseline="central" font-size="22" fill="rgb(180,180,180)" fill-opacity="0.4" font-family='"Liberation Sans", "Noto Sans CJK SC", sans-serif'>汇易</text>
<text x="918.9" y="473.8" transform="rotate(-37 918.9 473.8)" text-anchor="middle" dominant-baseline="central" font-size="21" font-weight="bold" letter-spacing="4" fill="rgb(180,180,180)" fill-opacity="0.4" font-family='"Liberation Sans", "Noto Sans CJK SC", sans-serif'>JCI</text>
<polygon points="599.0,496.3 613.1,485.0 626.8,485.0 649.9,502.0 649.9,510.5 633.9,523.2 628.7,518.0 639.6,509.6 639.6,506.7 623.5,493.5 617.9,493.5 604.7,501.1" fill="rgb(245,160,160)" fill-opacity="0.25"/>
<polygon points="621.6,478.9 633.9,469.9 640.5,474.2 633.9,479.4" fill="rgb(150,210,170)" fill-opacity="0.25"/>
<polygon points="656.5,498.2 664.1,492.1 670.2,495.9 656.5,506.7" fill="rgb(180,180,180)" fill-opacity="0.4"/>
<text x="666.7" y="458.1" transform="rotate(-40 666.7 458.1)" text-anchor="middle" dominant-baseline="central" font-size="22" fill="rgb(180,180,180)" fill-opacity="0.4" font-family='"Liberation Sans", "Noto Sans CJK SC", sans-serif'>汇易</text>
<text x="688.9" y="473.8" transform="rotate(-37 688.9 473.8)" text-anchor="middle" dominant-baseline="central" font-size="21" font-weight="bold" letter-spacing="4" fill="rgb(180,180,180)" fill-opacity="0.4" font-family='"Liberation Sans", "Noto Sans CJK SC", sans-serif'>JCI</text>
<polygon points="369.0,496.3 383.1,485.0 396.8,485.0 419.9,502.0 419.9,510.5 403.9,523.2 398.7,518.0 409.6,509.6 409.6,506.7 393.5,493.5 387.9,493.5 374.7,501.1" fill="rgb(245,160,160)" fill-opacity="0.25"/>
<polygon points="391.6,478.9 403.9,469.9 410.5,474.2 403.9,479.4" fill="rgb(150,210,170)" fill-opacity="0.25"/>
<polygon points="426.5,498.2 434.1,492.1 440.2,495.9 426.5,506.7" fill="rgb(180,180,180)" fill-opacity="0.4"/>
<text x="436.7" y="458.1" transform="rotate(-40 436.7 458.1)" text-anchor="middle" dominant-baseline="central" font-size="22" fill="rgb(180,180,180)" fill-opacity="0.4" font-family='"Liberation Sans", "Noto Sans CJK SC", sans-serif'>汇易</text>
<text x="458.9" y="473.8" transform="rotate(-37 458.9 473.8)" text-anchor="middle" dominant-baseline="central" font-size="21" font-weight="bold" letter-spacing="4" fill="rgb(180,180,180)" fill-opacity="0.4" font-family='"Liberation Sans", "Noto Sans CJK SC", sans-serif'>JCI</text>
<polygon points="139.0,496.3 153.1,485.0 166.8,485.0 189.9,502.0 189.9,510.5 173.9,523.2 168.7,518.0 179.6,509.6 179.6,506.7 163.5,493.5 157.9,493.5 144.7,501.1" fill="rgb(245,160,160)" fill-opacity="0.25"/>
<polygon points="161.6,478.9 173.9,469.9 180.5,474.2 173.9,479.4" fill="rgb(150,210,170)" fill-opacity="0.25"/>
<polygon points="196.5,498.2 204.1,492.1 210.2,495.9 196.5,506.7" fill="rgb(180,180,180)" fill-opacity="0.4"/>
<text x="206.7" y="458.1" transform="rotate(-40 206.7 458.1)" text-anchor="middle" dominant-baseline="central" font-size="22" fill="rgb(180,180,180)" fill-opacity="0.4" font-family='"Liberation Sans", "Noto Sans CJK SC", sans-serif'>汇易</text>
<text x="228.9" y="473.8" transform="rotate(-37 228.9 473.8)" text-anchor="middle" dominant-baseline="central" font-size="21" font-weight="bold" letter-spacing="4" fill="rgb(180,180,180)" fill-opacity="0.4" font-family='"Liberation Sans", "Noto Sans CJK SC", sans-serif'>JCI</text>
</g>
<polyline points="65.30,506.50 68.58,495.00 71.86,482.90 75.14,493.37 78.42,503.83 81.70,514.30 84.98,504.88 88.26,495.45 91.54,486.02 94.82,476.60 98.09,503.25 101.37,529.90 104.65,510.30 107.93,510.30 111.21,510.30 114.49,502.90 117.77,495.50 121.05,518.20 124.33,518.20 127.61,518.20 130.89,518.20 134.17,518.20 137.45,471.90 140.73,471.90 144.01,497.00 147.29,507.20 150.57,497.40 153.85,487.60 157.13,507.20 160.41,511.10 163.69,498.60 166.96,507.20 170.24,507.20 173.52,487.60 176.80,487.60 180.08,506.40 183.36,490.80 186.64,483.70 189.92,487.60 193.20,483.60 196.48,483.60 199.76,483.60 203.04,453.10 206.32,479.60 209.60,449.10 212.88,477.50 216.16,467.90 219.44,467.90 222.72,467.90 226.00,467.90 229.27,467.90 232.55,474.80 235.83,480.10 239.11,480.10 242.39,480.10 245.67,468.30 248.95,500.00 252.23,490.00 255.51,480.10" fill="none" stroke="#0a4598" stroke-width="2" stroke-linejoin="round"/>
<polyline points="262.07,484.40 265.35,497.10 268.63,487.90 271.91,433.50 275.19,418.40 278.47,437.30 281.75,424.10 285.03,436.80 288.31,440.60 291.59,440.60 294.87,440.60 298.14,447.80 301.42,455.00 304.70,472.30 307.98,387.00 311.26,429.30 314.54,400.00 317.82,383.90 321.10,400.00 324.38,416.80 327.66,382.70 330.94,348.60 334.22,369.80 337.50,379.20 340.78,429.30 344.06,421.00 347.34,417.35 350.62,413.70 353.90,425.40 357.18,394.90 360.46,403.00 363.73,413.70 367.01,416.80 370.29,413.70 373.57,444.20 376.85,423.00 380.13,430.00 383.41,452.90 386.69,452.90 389.97,440.40 393.25,438.80 396.53,437.20 399.81,444.30 403.09,445.10 406.37,444.30 409.65,450.00 412.93,456.00 416.21,438.00 419.49,487.40 422.77,487.40 426.05,480.30 429.32,497.15 432.60,514.00 435.88,499.00 439.16,484.00 442.44,484.00 445.72,502.30 449.00,502.30 452.28,502.30 455.56,514.00 458.84,495.20 462.12,487.40 465.40,491.30 468.68,491.30 471.96,491.30 475.24,487.40 478.52,506.20 481.80,510.30 485.08,514.40 488.36,514.40 491.64,514.40 494.91,510.70 498.19,510.70 501.47,510.70 504.75,510.70 508.03,533.20 511.31,521.90 514.59,529.40 517.87,530.00 521.15,533.80 524.43,533.80 527.71,530.00 530.99,530.00 534.27,530.00 537.55,534.00 540.83,530.00 544.11,523.20 547.39,518.80 550.67,523.20 553.95,530.00 557.23,530.00 560.50,515.00 563.78,508.10 567.06,510.70 570.34,526.90 573.62,520.65 576.90,514.40 580.18,521.90 583.46,526.90 586.74,515.65 590.02,504.40 593.30,507.55 596.58,510.70 599.86,510.70 603.14,506.30 606.42,518.80 609.70,523.20 612.98,506.30 616.26,498.80 619.54,491.30 622.81,498.80 626.09,499.40 629.37,491.90 632.65,491.90 635.93,522.50 639.21,503.70 642.49,517.80 645.77,507.60 649.05,509.20 652.33,502.10 655.61,509.20 658.89,514.60 662.17,511.50 665.45,519.30 668.73,515.40 672.01,506.80 675.29,495.80 678.57,513.90 681.85,499.70 685.13,509.20 688.40,514.60 691.68,506.80 694.96,510.70 698.24,510.70 701.52,494.30 704.80,514.60 708.08,514.60 711.36,514.60 714.64,499.00 717.92,502.90 721.20,499.00 724.48,489.60 727.76,515.50 731.04,515.50 734.32,510.80 737.60,514.70 740.88,518.90 744.16,514.70 747.44,514.70 750.72,514.70 754.00,510.80 757.27,511.10 760.55,518.90 763.83,518.90 767.11,511.10 770.39,511.10 773.67,514.70 776.95,518.90 780.23,499.00 783.51,499.00 786.79,502.90 790.07,499.00 793.35,515.50 796.63,523.30 799.91,537.40 803.19,520.20 806.47,511.10 809.75,530.30 813.03,530.30 816.31,514.70 819.58,519.40 822.86,530.30 826.14,514.70 829.42,514.70 832.70,514.70 835.98,521.70 839.26,526.40 842.54,537.40 845.82,537.70 849.10,546.80 852.38,521.70 855.66,530.00 858.94,546.00 862.22,546.00 865.50,526.40 868.78,521.70 872.06,530.30 875.34,538.20 878.62,526.40 881.90,542.10 885.17,546.00 888.45,546.00 891.73,546.00 895.01,528.00 898.29,511.50 901.57,502.90 904.85,506.80 908.13,510.00 911.41,522.00 914.69,546.30 917.97,542.10 921.25,534.30 924.53,517.00 927.81,510.40 931.09,525.60 934.37,514.70 937.65,514.70 940.93,522.50 944.21,529.60 947.49,529.60 950.76,529.60 954.04,516.70 957.32,530.80 960.60,525.60 963.88,508.90 967.16,518.60 970.44,518.60 973.72,518.60 977.00,549.90 980.28,549.90 983.56,530.30 986.84,525.60 990.12,534.30 993.40,546.80 996.68,535.50 999.96,529.90 1003.24,541.30 1006.52,546.00 1009.80,542.10 1013.08,538.20 1016.36,538.20 1019.63,538.20 1022.91,546.80 1026.19,526.40 1029.47,553.40 1032.75,553.40 1036.03,553.40 1039.31,529.90 1042.59,529.90 1045.87,537.40 1049.15,546.00 1052.43,546.00 1055.71,546.00 1058.99,508.40 1062.27,561.70 1065.55,557.00 1068.83,557.00 1072.11,557.00 1075.39,557.00 1078.67,557.00 1081.94,553.40 1085.22,525.60 1088.50,518.60 1091.78,522.50 1095.06,515.40 1098.34,524.00 1101.62,549.00 1104.90,540.00 1108.18,491.90 1111.46,495.00 1114.74,499.00 1118.02,499.00 1121.30,499.00 1124.58,499.00 1127.86,541.00 1131.14,528.70 1134.42,525.60 1137.70,525.60 1140.98,525.60 1144.26,525.60 1147.54,518.60 1150.81,513.90 1154.09,511.50 1157.37,515.40 1160.65,468.40 1163.93,485.60 1167.21,478.60 1170.49,499.00 1173.77,499.00 1177.05,475.80 1180.33,475.80 1183.61,468.40 1186.89,472.30 1190.17,445.70 1193.45,468.40 1196.73,468.40 1200.01,468.40 1203.29,472.30 1206.57,444.90 1209.85,441.00 1213.12,468.40 1216.40,472.30 1219.68,467.60 1222.96,487.20 1226.24,468.40 1229.52,494.30 1232.80,484.10 1236.08,484.10 1239.36,484.10 1242.64,488.00 1245.92,468.40 1249.20,464.20 1252.48,489.60 1255.76,520.10 1259.04,510.70 1262.32,510.70" fill="none" stroke="#0a4598" stroke-width="2" stroke-linejoin="round"/>
<polyline points="65.30,476.20 68.58,479.90 71.86,479.90 75.14,464.80 78.42,487.90 81.70,487.90 84.98,487.90 88.26,502.65 91.54,517.40 94.82,522.40 98.09,520.70 101.37,519.00 104.65,518.60 107.93,518.20 111.21,491.50 114.49,491.50 117.77,503.00 121.05,514.50 124.33,526.00 127.61,487.60 130.89,500.20 134.17,490.00 137.45,479.80 140.73,526.00 144.01,497.25 147.29,468.50 150.57,491.40 153.85,514.30 157.13,491.50 160.41,491.50 163.69,478.20 166.96,437.20 170.24,472.00 173.52,481.30 176.80,480.65 180.08,480.00 183.36,341.40 186.64,379.30 189.92,309.60 193.20,309.60 196.48,313.50 199.76,322.90 203.04,355.80 206.32,309.60 209.60,309.60 212.88,332.60 216.16,332.60 219.44,332.60 222.72,332.60 226.00,332.60 229.27,336.20 232.55,350.33 235.83,364.47 239.11,378.60 242.39,378.95 245.67,379.30 248.95,340.00 252.23,283.70 255.51,320.00 258.79,340.10 262.07,330.10 265.35,335.05 268.63,340.00 271.91,362.70 275.19,386.30 278.47,378.00 281.75,367.70 285.03,298.90 288.31,317.40 291.59,317.40 294.87,317.40 298.14,317.40 301.42,128.80 304.70,124.60 307.98,97.50 311.26,159.10 314.54,159.10 317.82,159.10 321.10,159.10 324.38,154.40 327.66,185.20 330.94,198.95 334.22,212.70 337.50,212.97 340.78,213.23 344.06,213.50 347.34,232.20 350.62,232.20 353.90,244.00 357.18,209.40 360.46,209.40 363.73,209.40 367.01,209.40 370.29,127.00 373.57,109.00 376.85,109.00 380.13,109.00 383.41,109.00 386.69,93.80 389.97,158.40 393.25,175.00 396.53,195.00 399.81,205.00 403.09,209.00 406.37,209.00 409.65,209.00 412.93,270.90 416.21,282.70 419.49,282.60 422.77,301.30 426.05,337.40 429.32,347.60 432.60,329.20 435.88,325.20 439.16,302.60 442.44,324.90 445.72,306.80 449.00,317.00 452.28,294.80 455.56,309.20 458.84,299.00 462.12,278.60 465.40,278.60 468.68,290.40 471.96,290.40 475.24,290.40 478.52,290.40 481.80,294.30 485.08,285.70 488.36,317.80 491.64,313.90 494.91,310.00 498.19,310.00 501.47,310.00 504.75,277.80 508.03,287.20 511.31,270.00 514.59,274.70 517.87,271.60 521.15,271.60 524.43,271.60 527.71,294.30 530.99,294.30 534.27,285.70 537.55,278.60 540.83,282.00 544.11,266.30 547.39,275.00 550.67,275.00 553.95,275.00 557.23,255.40 560.50,247.20 563.78,255.40 567.06,256.20 570.34,266.30 573.62,282.00 576.90,311.00 580.18,305.50 583.46,309.50 586.74,313.40 590.02,313.40 593.30,322.80 596.58,289.90 599.86,285.90 603.14,298.50 606.42,294.20 609.70,301.60 612.98,305.50 616.26,302.10 619.54,311.00 622.81,294.20 626.09,294.20 629.37,301.60 632.65,306.30 635.93,299.00 639.21,294.20 642.49,306.30 645.77,306.30 649.05,302.10 652.33,314.60 655.61,305.50 658.89,325.10 662.17,329.00 665.45,337.70 668.73,329.00 672.01,321.20 675.29,329.00 678.57,336.90 681.85,349.00 685.13,344.30 688.40,344.30 691.68,348.70 694.96,343.90 698.24,367.00 701.52,348.20 704.80,348.20 708.08,348.20 711.36,348.20 714.64,348.20 717.92,352.10 721.20,373.30 724.48,363.90 727.76,363.90 731.04,363.90 734.32,305.90 737.60,297.20 740.88,321.50 744.16,321.50 747.44,321.50 750.72,321.50 754.00,321.50 757.27,341.10 760.55,341.10 763.83,334.10 767.11,328.60 770.39,321.50 773.67,321.50 776.95,321.50 780.23,298.00 783.51,302.00 786.79,305.90 790.07,305.90 793.35,325.50 796.63,325.50 799.91,325.50 803.19,321.10 806.47,359.90 809.75,363.90 813.03,359.90 816.31,352.40 819.58,352.40 822.86,363.10 826.14,379.50 829.42,374.80 832.70,383.60 835.98,398.70 839.26,402.70 842.54,402.70 845.82,402.70 849.10,390.50 852.38,395.30 855.66,414.10 858.94,391.30 862.22,425.80 865.50,425.80 868.78,379.60 872.06,410.20 875.34,414.10 878.62,414.10 881.90,406.70 885.17,406.70 888.45,406.70 891.73,406.70 895.01,414.90 898.29,395.70 901.57,406.70 904.85,397.60 908.13,387.40 911.41,407.00 914.69,418.30 917.97,414.10 921.25,436.80 924.53,441.50 927.81,433.70 931.09,425.80 934.37,410.20 937.65,414.10 940.93,393.70 944.21,398.40 947.49,398.40 950.76,389.80 954.04,410.20 957.32,391.30 960.60,387.40 963.88,414.10 967.16,422.70 970.44,440.70 973.72,441.20 977.00,460.30 980.28,460.30 983.56,460.30 986.84,418.80 990.12,425.80 993.40,459.50 996.68,452.50 999.96,463.40 1003.24,463.80 1006.52,464.20 1009.80,467.40 1013.08,441.50 1016.36,440.70 1019.63,433.40 1022.91,433.40 1026.19,472.00 1029.47,472.50 1032.75,430.20 1036.03,460.70 1039.31,464.60 1042.59,456.00 1045.87,479.50 1049.15,479.50 1052.43,479.50 1055.71,455.20 1058.99,465.40 1062.27,448.20 1065.55,452.90 1068.83,445.00 1072.11,445.00 1075.39,445.00 1078.67,445.00 1081.94,433.30 1085.22,416.80 1088.50,399.60 1091.78,421.50 1095.06,421.50 1098.34,421.50 1101.62,421.50 1104.90,441.10 1108.18,452.90 1111.46,461.50 1114.74,452.90 1118.02,452.90 1121.30,452.90 1124.58,463.90 1127.86,444.30 1131.14,449.00 1134.42,444.30 1137.70,429.80 1140.98,429.80 1144.26,429.80 1147.54,440.30 1150.81,449.00 1154.09,445.00 1157.37,413.70 1160.65,413.70 1163.93,413.70 1167.21,422.30 1170.49,428.60 1173.77,433.30 1177.05,430.20 1180.33,417.60 1183.61,409.80 1186.89,414.20 1190.17,410.60 1193.45,409.80 1196.73,387.50 1200.01,402.70 1203.29,417.60 1206.57,421.50 1209.85,426.20 1213.12,401.90 1216.40,410.60 1219.68,418.40 1222.96,414.50 1226.24,413.70 1229.52,406.50 1232.80,406.50 1236.08,406.50 1239.36,406.50 1242.64,406.50 1245.92,401.80 1249.20,425.50 1252.48,398.90 1255.76,398.90 1259.04,398.90 1262.32,398.90" fill="none" stroke="#474747" stroke-width="2" stroke-linejoin="round"/>
<polyline points="65.30,375.90 68.58,403.20 71.86,391.90 75.14,379.30 78.42,379.30 81.70,379.30 84.98,379.30 88.26,344.90 91.54,344.90" fill="none" stroke="#bb6400" stroke-width="2" stroke-linejoin="round"/>
<polyline points="107.93,324.80 111.21,315.90 114.49,332.60 117.77,321.30 121.05,336.70 124.33,336.70 127.61,332.30 130.89,344.10 134.17,355.80 137.45,336.20 140.73,341.40 144.01,317.00 147.29,321.30 150.57,313.20 153.85,333.60 157.13,329.20 160.41,329.20 163.69,325.30 166.96,313.80 170.24,313.65 173.52,313.50 176.80,309.60 180.08,319.00 183.36,305.70 186.64,310.10 189.92,300.70 193.20,291.00 196.48,290.80 199.76,290.60 203.04,299.40 206.32,283.20 209.60,267.00 212.88,271.30 216.16,271.30 219.44,271.30 222.72,309.60 226.00,313.50 229.27,313.50 232.55,313.50 235.83,313.50 239.11,313.50 242.39,313.50 245.67,313.50 248.95,328.75 252.23,344.00 255.51,319.00 258.79,340.90 262.07,340.90 265.35,340.90 268.63,358.05 271.91,375.20 275.19,365.20 278.47,358.90 281.75,317.40 285.03,317.40 288.31,300.00 291.59,287.60 294.87,315.80 298.14,332.40 301.42,306.80 304.70,332.40 307.98,332.40 311.26,332.40 314.54,332.40 317.82,383.90 321.10,387.20 324.38,387.20 327.66,372.10 330.94,372.10 334.22,372.10 337.50,368.20 340.78,359.60 344.06,372.10 347.34,409.00 350.62,383.10 353.90,383.10 357.18,388.60 360.46,405.80 363.73,437.20 367.01,437.20 370.29,437.20 373.57,422.00 376.85,422.00 380.13,422.00 383.41,432.50 386.69,464.70 389.97,450.95 393.25,437.20 396.53,426.30 399.81,426.30 403.09,426.30 406.37,426.30 409.65,456.00 412.93,449.00 416.21,449.00 419.49,467.00 422.77,476.40 426.05,468.60 429.32,465.50 432.60,475.60 435.88,471.70 439.16,460.80 442.44,441.90 445.72,456.80 449.00,460.00 452.28,456.00 455.56,471.70 458.84,482.70 462.12,464.70 465.40,464.30 468.68,463.90 471.96,463.90 475.24,453.70 478.52,475.60 481.80,475.60 485.08,475.60 488.36,475.60 491.64,460.80 494.91,460.80 498.19,464.70 501.47,456.00 504.75,473.30 508.03,491.30 511.31,471.70 514.59,471.70 517.87,464.70 521.15,472.50 524.43,499.00 527.71,499.30 530.99,496.00 534.27,495.20 537.55,480.30 540.83,495.00 544.11,487.20 547.39,513.90 550.67,479.80 553.95,475.80 557.23,475.80 560.50,506.80 563.78,506.73 567.06,506.65 570.34,506.57 573.62,506.50 576.90,503.00 580.18,503.00 583.46,503.00 586.74,503.00 590.02,503.00 593.30,503.00 596.58,488.00 599.86,488.00 603.14,478.60 606.42,499.00 609.70,479.40 612.98,484.10 616.26,491.10 619.54,475.80 622.81,475.80 626.09,494.30 629.37,483.30 632.65,495.50 635.93,491.90 639.21,486.70 642.49,495.80 645.77,479.80 649.05,479.80 652.33,486.40 655.61,491.10 658.89,479.80 662.17,479.80 665.45,506.50 668.73,487.70 672.01,487.70 675.29,494.60 678.57,487.70 681.85,487.70 685.13,422.40 688.40,502.10 691.68,494.30 694.96,487.20 698.24,495.50 701.52,495.50 704.80,476.70 708.08,499.00 711.36,502.90 714.64,502.90 717.92,522.50 721.20,522.50 724.48,522.50 727.76,522.50 731.04,522.50 734.32,511.50 737.60,506.00 740.88,512.30 744.16,501.30 747.44,491.90 750.72,506.80 754.00,506.80 757.27,510.40 760.55,502.90 763.83,499.00 767.11,514.70 770.39,526.70 773.67,523.30 776.95,519.80 780.23,510.00 783.51,494.80 786.79,499.80 790.07,506.80 793.35,506.80 796.63,506.80 799.91,518.90 803.19,518.90 806.47,518.90 809.75,541.80 813.03,541.80 816.31,546.00 819.58,538.20 822.86,529.60 826.14,514.70 829.42,511.10 832.70,506.80 835.98,499.00 839.26,491.20 842.54,494.80 845.82,514.20 849.10,494.80 852.38,502.90 855.66,529.60 858.94,502.90 862.22,507.60 865.50,491.20 868.78,499.00 872.06,502.90 875.34,510.80 878.62,506.80 881.90,506.80 885.17,494.80 888.45,502.90 891.73,518.90 895.01,514.70 898.29,514.70 901.57,511.00 904.85,511.00 908.13,511.00 911.41,511.00 914.69,518.90 917.97,514.70 921.25,518.60 924.53,511.10 927.81,507.30 931.09,491.90 934.37,506.80 937.65,506.80 940.93,498.50 944.21,506.80 947.49,502.60 950.76,524.10 954.04,514.70 957.32,510.40 960.60,523.00 963.88,514.20 967.16,507.30 970.44,502.90 973.72,510.00 977.00,523.30 980.28,513.90 983.56,502.10 986.84,511.10 990.12,506.80 993.40,491.90 996.68,491.90 999.96,491.90 1003.24,502.10 1006.52,525.60 1009.80,511.50 1013.08,507.30 1016.36,484.40 1019.63,495.90 1022.91,507.60 1026.19,499.50 1029.47,522.50 1032.75,522.50 1036.03,507.60 1039.31,499.00 1042.59,507.30 1045.87,499.00 1049.15,508.40 1052.43,486.50 1055.71,497.40 1058.99,506.80 1062.27,506.80 1065.55,506.80 1068.83,506.80 1072.11,517.80 1075.39,487.20 1078.67,475.00 1081.94,487.00 1085.22,517.80 1088.50,499.00 1091.78,506.50 1095.06,513.90 1098.34,488.80 1101.62,499.00 1104.90,495.80 1108.18,480.90 1111.46,495.00 1114.74,514.60 1118.02,514.60 1121.30,514.60 1124.58,503.70 1127.86,484.90 1131.14,502.90 1134.42,510.70 1137.70,484.90 1140.98,499.00 1144.26,515.40 1147.54,510.70 1150.81,510.70 1154.09,510.70 1157.37,510.70 1160.65,501.30 1163.93,488.00 1167.21,488.00 1170.49,488.00 1173.77,488.00 1177.05,488.00 1180.33,488.00 1183.61,488.00 1186.89,509.90 1190.17,495.80 1193.45,495.80 1196.73,488.00 1200.01,499.30 1203.29,495.35 1206.57,491.40 1209.85,491.40 1213.12,491.40 1216.40,491.40 1219.68,491.40 1222.96,491.40 1226.24,491.40 1229.52,491.40 1232.80,491.40 1236.08,491.40 1239.36,491.40 1242.64,476.70 1245.92,489.60 1249.20,500.50 1252.48,514.60 1255.76,510.70 1259.04,502.90 1262.32,506.80" fill="none" stroke="#bb6400" stroke-width="2" stroke-linejoin="round"/>
<polygon points="65.30,596.5 65.30,491.80 68.58,507.00 71.86,512.00 75.14,503.00 78.42,502.00 81.70,487.50 84.98,506.00 88.26,485.60 91.54,498.00 94.82,509.00 98.09,498.00 101.37,487.90 104.65,505.20 107.93,495.00 111.21,499.70 114.49,505.90 117.77,449.00 121.05,463.90 124.33,444.30 127.61,444.30 130.89,465.40 134.17,459.90 137.45,440.00 140.73,406.60 144.01,425.80 147.29,425.80 150.57,416.40 153.85,433.30 157.13,416.40 160.41,427.00 163.69,413.70 166.96,409.80 170.24,413.70 173.52,398.80 176.80,409.00 180.08,463.90 183.36,430.00 186.64,405.90 189.92,393.30 193.20,401.90 196.48,425.50 199.76,400.00 203.04,385.00 206.32,370.70 209.60,376.20 212.88,337.00 216.16,332.30 219.44,341.70 222.72,370.70 226.00,348.80 229.27,348.30 232.55,330.00 235.83,344.10 239.11,317.90 242.39,333.10 245.67,348.00 248.95,319.00 252.23,290.00 255.51,309.60 258.79,313.50 262.07,317.40 265.35,290.80 268.63,282.90 271.91,224.80 275.19,231.00 278.47,265.00 281.75,288.00 285.03,304.10 288.31,298.60 291.59,317.40 294.87,351.90 298.14,340.00 301.42,348.60 304.70,357.20 307.98,364.30 311.26,354.10 314.54,379.20 317.82,388.60 321.10,444.20 324.38,444.20 327.66,444.20 330.94,444.20 334.22,380.00 337.50,407.40 340.78,413.70 344.06,421.50 347.34,415.20 350.62,386.20 353.90,386.20 357.18,383.90 360.46,358.00 363.73,368.20 367.01,360.40 370.29,360.40 373.57,360.40 376.85,367.40 380.13,372.10 383.41,387.00 386.69,412.00 389.97,435.00 393.25,455.00 396.53,477.00 399.81,458.00 403.09,440.30 406.37,434.00 409.65,434.00 412.93,391.70 416.21,371.30 419.49,367.40 422.77,397.00 426.05,412.70 429.32,430.70 432.60,421.30 435.88,412.70 439.16,437.00 442.44,437.00 445.72,437.00 449.00,423.70 452.28,437.00 455.56,448.70 458.84,444.80 462.12,444.80 465.40,448.70 468.68,437.00 471.96,436.20 475.24,432.30 478.52,425.20 481.80,429.20 485.08,451.90 488.36,430.75 491.64,409.60 494.91,405.60 498.19,423.70 501.47,440.90 504.75,440.90 508.03,437.00 511.31,432.30 514.59,424.50 517.87,437.00 521.15,422.10 524.43,432.30 527.71,433.10 530.99,437.00 534.27,440.90 537.55,441.70 540.83,426.00 544.11,448.70 547.39,436.20 550.67,440.90 553.95,437.80 557.23,426.00 560.50,422.10 563.78,414.90 567.06,398.40 570.34,398.40 573.62,402.60 576.90,398.40 580.18,393.70 583.46,383.50 586.74,372.20 590.02,385.90 593.30,404.70 596.58,414.10 599.86,379.60 603.14,391.30 606.42,410.20 609.70,429.00 612.98,429.70 616.26,443.10 619.54,430.50 622.81,421.40 626.09,425.50 629.37,425.50 632.65,437.60 635.93,437.60 639.21,422.40 642.49,433.70 645.77,429.00 649.05,424.30 652.33,416.10 655.61,433.70 658.89,452.50 662.17,439.90 665.45,448.60 668.73,448.60 672.01,436.80 675.29,436.80 678.57,452.50 681.85,457.20 685.13,448.95 688.40,440.70 691.68,440.70 694.96,436.80 698.24,446.20 701.52,436.00 704.80,448.60 708.08,454.00 711.36,442.30 714.64,432.10 717.92,440.70 721.20,450.10 724.48,441.50 727.76,432.90 731.04,437.10 734.32,452.50 734.32,596.5" fill="url(#g25)"/>
<polyline points="65.30,491.80 68.58,507.00 71.86,512.00 75.14,503.00 78.42,502.00 81.70,487.50 84.98,506.00 88.26,485.60 91.54,498.00 94.82,509.00 98.09,498.00 101.37,487.90 104.65,505.20 107.93,495.00 111.21,499.70 114.49,505.90 117.77,449.00 121.05,463.90 124.33,444.30 127.61,444.30 130.89,465.40 134.17,459.90 137.45,440.00 140.73,406.60 144.01,425.80 147.29,425.80 150.57,416.40 153.85,433.30 157.13,416.40 160.41,427.00 163.69,413.70 166.96,409.80 170.24,413.70 173.52,398.80 176.80,409.00 180.08,463.90 183.36,430.00 186.64,405.90 189.92,393.30 193.20,401.90 196.48,425.50 199.76,400.00 203.04,385.00 206.32,370.70 209.60,376.20 212.88,337.00 216.16,332.30 219.44,341.70 222.72,370.70 226.00,348.80 229.27,348.30 232.55,330.00 235.83,344.10 239.11,317.90 242.39,333.10 245.67,348.00 248.95,319.00 252.23,290.00 255.51,309.60 258.79,313.50 262.07,317.40 265.35,290.80 268.63,282.90 271.91,224.80 275.19,231.00 278.47,265.00 281.75,288.00 285.03,304.10 288.31,298.60 291.59,317.40 294.87,351.90 298.14,340.00 301.42,348.60 304.70,357.20 307.98,364.30 311.26,354.10 314.54,379.20 317.82,388.60 321.10,444.20 324.38,444.20 327.66,444.20 330.94,444.20 334.22,380.00 337.50,407.40 340.78,413.70 344.06,421.50 347.34,415.20 350.62,386.20 353.90,386.20 357.18,383.90 360.46,358.00 363.73,368.20 367.01,360.40 370.29,360.40 373.57,360.40 376.85,367.40 380.13,372.10 383.41,387.00 386.69,412.00 389.97,435.00 393.25,455.00 396.53,477.00 399.81,458.00 403.09,440.30 406.37,434.00 409.65,434.00 412.93,391.70 416.21,371.30 419.49,367.40 422.77,397.00 426.05,412.70 429.32,430.70 432.60,421.30 435.88,412.70 439.16,437.00 442.44,437.00 445.72,437.00 449.00,423.70 452.28,437.00 455.56,448.70 458.84,444.80 462.12,444.80 465.40,448.70 468.68,437.00 471.96,436.20 475.24,432.30 478.52,425.20 481.80,429.20 485.08,451.90 488.36,430.75 491.64,409.60 494.91,405.60 498.19,423.70 501.47,440.90 504.75,440.90 508.03,437.00 511.31,432.30 514.59,424.50 517.87,437.00 521.15,422.10 524.43,432.30 527.71,433.10 530.99,437.00 534.27,440.90 537.55,441.70 540.83,426.00 544.11,448.70 547.39,436.20 550.67,440.90 553.95,437.80 557.23,426.00 560.50,422.10 563.78,414.90 567.06,398.40 570.34,398.40 573.62,402.60 576.90,398.40 580.18,393.70 583.46,383.50 586.74,372.20 590.02,385.90 593.30,404.70 596.58,414.10 599.86,379.60 603.14,391.30 606.42,410.20 609.70,429.00 612.98,429.70 616.26,443.10 619.54,430.50 622.81,421.40 626.09,425.50 629.37,425.50 632.65,437.60 635.93,437.60 639.21,422.40 642.49,433.70 645.77,429.00 649.05,424.30 652.33,416.10 655.61,433.70 658.89,452.50 662.17,439.90 665.45,448.60 668.73,448.60 672.01,436.80 675.29,436.80 678.57,452.50 681.85,457.20 685.13,448.95 688.40,440.70 691.68,440.70 694.96,436.80 698.24,446.20 701.52,436.00 704.80,448.60 708.08,454.00 711.36,442.30 714.64,432.10 717.92,440.70 721.20,450.10 724.48,441.50 727.76,432.90 731.04,437.10 734.32,452.50" fill="none" stroke="#026666" stroke-width="2" stroke-linejoin="round"/>
<line x1="64" y1="596.5" x2="1264.5" y2="596.5" stroke="#aaa" stroke-width="1"/>
<text y="40" font-size="27.5" font-weight="bold" fill="#333" font-family='"Liberation Sans", "Noto Sans CJK SC", sans-serif'><tspan x="267" letter-spacing="0.54">JCI: 2022-01-01~2025-07-23</tspan><tspan x="636.3" font-size="27.2">秘鲁沿岸海表水温</tspan><tspan x="853.9" letter-spacing="1.1">('Chicama')</tspan></text>
<text x="17" y="72" text-anchor="middle" font-size="15.5" font-weight="300" fill="#555" font-family='"Liberation Sans", "Noto Sans CJK SC", sans-serif'>单</text>
<text x="17" y="94" text-anchor="middle" font-size="15.5" font-weight="300" fill="#555" font-family='"Liberation Sans", "Noto Sans CJK SC", sans-serif'>位</text>
<text x="20.8" y="114.6" text-anchor="middle" font-size="15.5" font-weight="300" fill="#555" font-family='"Liberation Sans", "Noto Sans CJK SC", sans-serif'>：</text>
<text transform="translate(12,129) rotate(90)" text-anchor="middle" font-size="16" font-weight="300" fill="#555" font-family='"Liberation Sans", "Noto Sans CJK SC", sans-serif'>℃</text>
<line x1="513.9" y1="665" x2="525.9" y2="665" stroke="#0a4598" stroke-width="2" stroke-linecap="round"/>
<text x="532.4" y="669.5" font-size="16" fill="#888" font-family='"Liberation Sans", "Noto Sans CJK SC", sans-serif'>2022</text>
<line x1="580.0" y1="665" x2="592.0" y2="665" stroke="#474747" stroke-width="2" stroke-linecap="round"/>
<text x="598.5" y="669.5" font-size="16" fill="#888" font-family='"Liberation Sans", "Noto Sans CJK SC", sans-serif'>2023</text>
<line x1="646.1" y1="665" x2="658.1" y2="665" stroke="#bb6400" stroke-width="2" stroke-linecap="round"/>
<text x="664.6" y="669.5" font-size="16" fill="#888" font-family='"Liberation Sans", "Noto Sans CJK SC", sans-serif'>2024</text>
<line x1="712.2" y1="665" x2="724.2" y2="665" stroke="#026666" stroke-width="2" stroke-linecap="round"/>
<text x="730.7" y="669.5" font-size="16" fill="#888" font-family='"Liberation Sans", "Noto Sans CJK SC", sans-serif'>2025</text>
</svg></body></html>
